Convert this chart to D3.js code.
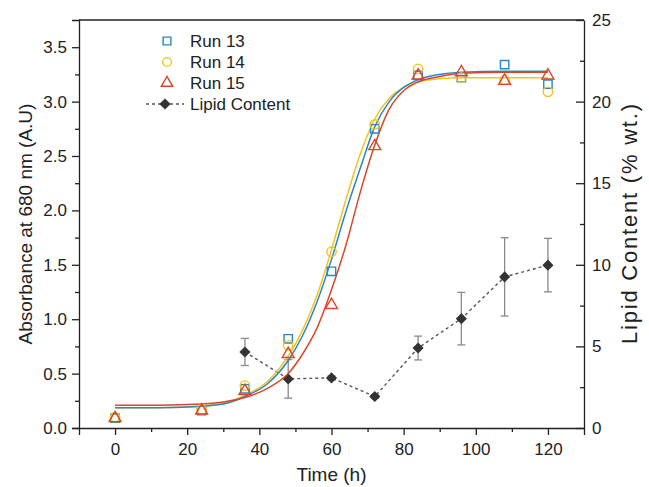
<!DOCTYPE html>
<html>
<head>
<meta charset="utf-8">
<script src="https://cdn.jsdelivr.net/npm/d3@7"></script>
<style>
  body { margin: 0; background: #fff; }
  svg text { font-family: "Liberation Sans", Arial, sans-serif; fill: #222; }
</style>
</head>
<body>
<svg id="chart" width="649" height="487"></svg>
<script>
// sampling times (h)
var times = [0, 24, 36, 48, 60, 72, 84, 96, 108, 120];

// absorbance readings
var run13 = [0.09, 0.16, 0.36, 0.82, 1.44, 2.75, 3.24, 3.22, 3.34, 3.16];
var run14 = [0.10, 0.17, 0.39, 0.76, 1.62, 2.79, 3.30, 3.22, 3.20, 3.09];
var run15 = [0.09, 0.16, 0.34, 0.68, 1.13, 2.59, 3.24, 3.27, 3.19, 3.24];

// fitted growth curves
var fitTimes = [0, 12, 24, 30, 36, 42, 48, 52, 56, 60, 64, 68, 72, 76, 80, 84, 90, 96, 108, 120];
var fit13 = [0.185, 0.187, 0.20, 0.22, 0.29, 0.40, 0.62, 0.85, 1.16, 1.55, 1.99, 2.39, 2.77, 3.00, 3.13, 3.20, 3.25, 3.27, 3.28, 3.28];
var fit14 = [0.185, 0.187, 0.20, 0.23, 0.30, 0.42, 0.66, 0.90, 1.22, 1.64, 2.10, 2.52, 2.84, 3.03, 3.13, 3.18, 3.21, 3.22, 3.22, 3.22];
var fit15 = [0.21, 0.21, 0.22, 0.24, 0.28, 0.36, 0.50, 0.68, 0.92, 1.27, 1.68, 2.17, 2.60, 2.93, 3.10, 3.18, 3.23, 3.26, 3.27, 3.27];

// lipid content (% wt.) with error
var lipidTimes = [36, 48, 60, 72, 84, 96, 108, 120];
var lipid = [4.66, 3.01, 3.07, 1.93, 4.90, 6.70, 9.26, 9.98];
var lipidErr = [0.83, 1.18, 0.12, 0.12, 0.73, 1.61, 2.40, 1.64];

var xTicks = [0, 20, 40, 60, 80, 100, 120];
var yTicks = [0, 0.5, 1.0, 1.5, 2.0, 2.5, 3.0, 3.5];
var y2Ticks = [0, 5, 10, 15, 20, 25];

var blue = "#2a86c6", yellow = "#f0c520", red = "#d9472b";

var m = { left: 79, right: 65, top: 20, bottom: 59 };
var W = 649, H = 487;
var w = W - m.left - m.right, h = H - m.top - m.bottom;

var svg = d3.select("#chart");
var chart = svg.append("g").attr("transform", "translate(" + m.left + "," + m.top + ")");

var x = d3.scaleLinear().domain([-10, 130]).range([0, w]);
var y = d3.scaleLinear().domain([0, 3.75]).range([h, 0]);
var y2 = d3.scaleLinear().domain([0, 25]).range([h, 0]);

// frame top line
chart.append("line").attr("x1", 0).attr("x2", w).attr("y1", 0).attr("y2", 0)
    .attr("stroke", "#222").attr("stroke-width", 1.3);

// minor ticks first
chart.append("g").attr("transform", "translate(0," + h + ")")
    .call(d3.axisBottom(x).tickValues(d3.range(10, 130, 20)).tickSize(4).tickFormat(""))
    .call(function (g) { g.select(".domain").remove(); });
chart.append("g")
    .call(d3.axisLeft(y).tickValues(d3.range(0.25, 3.75, 0.5)).tickSize(4).tickFormat(""))
    .call(function (g) { g.select(".domain").remove(); });
chart.append("g").attr("transform", "translate(" + w + ",0)")
    .call(d3.axisLeft(y2).tickValues(d3.range(2.5, 25, 5)).tickSize(4).tickFormat(""))
    .call(function (g) { g.select(".domain").remove(); });

var gX = chart.append("g").attr("transform", "translate(0," + h + ")")
    .call(d3.axisBottom(x).tickValues(xTicks).tickSize(7).tickPadding(8));
var gY = chart.append("g")
    .call(d3.axisLeft(y).tickValues(yTicks).tickSize(7).tickPadding(5).tickFormat(d3.format(".1f")));
var gY2 = chart.append("g").attr("transform", "translate(" + w + ",0)")
    .call(d3.axisRight(y2).tickValues(y2Ticks).tickSizeInner(-8).tickSizeOuter(0).tickPadding(8));
// right tick marks point inward, keep labels outside
gY2.selectAll(".tick text").attr("x", 8);

chart.selectAll(".domain, .tick line").attr("stroke", "#222").attr("stroke-width", 1.3);
chart.selectAll(".tick text").attr("font-size", 17).attr("fill", "#222");

// axis titles
svg.append("text").attr("x", m.left + x(60)).attr("y", 481)
    .attr("text-anchor", "middle").attr("font-size", 19).text("Time (h)");
svg.append("text").attr("transform", "translate(32," + (m.top + h / 2) + ") rotate(-90)")
    .attr("text-anchor", "middle").attr("font-size", 19).text("Absorbance at 680 nm (A.U)");
svg.append("text").attr("transform", "translate(637," + (m.top + h / 2) + ") rotate(-90)")
    .attr("text-anchor", "middle").attr("font-size", 22)
    .attr("textLength", 240).attr("lengthAdjust", "spacing").text("Lipid Content (% wt.)");

// lipid content: error bars, dashed line, diamonds
var lipidRows = lipidTimes.map(function (t, i) { return { t: t, v: lipid[i], e: lipidErr[i] }; });
var eb = chart.append("g").attr("stroke", "#8a8a8a").attr("stroke-width", 1.3);
lipidRows.forEach(function (d) {
    eb.append("line").attr("x1", x(d.t)).attr("x2", x(d.t)).attr("y1", y2(d.v - d.e)).attr("y2", y2(d.v + d.e));
    eb.append("line").attr("x1", x(d.t) - 4).attr("x2", x(d.t) + 4).attr("y1", y2(d.v - d.e)).attr("y2", y2(d.v - d.e));
    eb.append("line").attr("x1", x(d.t) - 4).attr("x2", x(d.t) + 4).attr("y1", y2(d.v + d.e)).attr("y2", y2(d.v + d.e));
});
var lipidLine = d3.line().x(function (d) { return x(d.t); }).y(function (d) { return y2(d.v); });
chart.append("path").attr("d", lipidLine(lipidRows))
    .attr("fill", "none").attr("stroke", "#555").attr("stroke-width", 1.4).attr("stroke-dasharray", "3,3");
var diamond = d3.symbol().type(d3.symbolSquare).size(62)();
chart.selectAll(".dia").data(lipidRows).enter().append("path")
    .attr("d", diamond)
    .attr("transform", function (d) { return "translate(" + x(d.t) + "," + y2(d.v) + ") rotate(45)"; })
    .attr("fill", "#333");

// fitted curves
var fitLine = d3.line().curve(d3.curveMonotoneX)
    .x(function (d) { return x(d[0]); }).y(function (d) { return y(d[1]); });
[[fit14, yellow], [fit13, blue], [fit15, red]].forEach(function (s) {
    chart.append("path").attr("d", fitLine(fitTimes.map(function (t, i) { return [t, s[0][i]]; })))
        .attr("fill", "none").attr("stroke", s[1]).attr("stroke-width", 1.5);
});

// run markers
function markers(vals, type, size, color) {
    var sym = d3.symbol().type(type).size(size)();
    chart.append("g").selectAll("path").data(vals).enter().append("path")
        .attr("d", sym)
        .attr("transform", function (d, i) { return "translate(" + x(times[i]) + "," + y(d) + ")"; })
        .attr("fill", "none").attr("stroke", color).attr("stroke-width", 1.4);
}
markers(run13, d3.symbolSquare, 70, blue);
markers(run14, d3.symbolCircle, 70, yellow);
markers(run15, d3.symbolTriangle, 62, red);

// legend
var lg = svg.append("g");
var legendRows = [
    { label: "Run 13", type: d3.symbolSquare, size: 60, color: blue },
    { label: "Run 14", type: d3.symbolCircle, size: 60, color: yellow },
    { label: "Run 15", type: d3.symbolTriangle, size: 56, color: red }
];
legendRows.forEach(function (r, i) {
    var cy = 41 + i * 21;
    lg.append("path").attr("d", d3.symbol().type(r.type).size(r.size)())
        .attr("transform", "translate(167," + cy + ")")
        .attr("fill", "none").attr("stroke", r.color).attr("stroke-width", 1.4);
    lg.append("text").attr("x", 190).attr("y", cy + 6).attr("font-size", 17).text(r.label);
});
var ly = 41 + 3 * 21;
lg.append("line").attr("x1", 146).attr("x2", 184).attr("y1", ly).attr("y2", ly)
    .attr("stroke", "#555").attr("stroke-width", 1.4).attr("stroke-dasharray", "3,3");
lg.append("path").attr("d", diamond).attr("transform", "translate(165," + ly + ") rotate(45)").attr("fill", "#333");
lg.append("text").attr("x", 190).attr("y", ly + 6).attr("font-size", 17).text("Lipid Content");
</script>
</body>
</html>
